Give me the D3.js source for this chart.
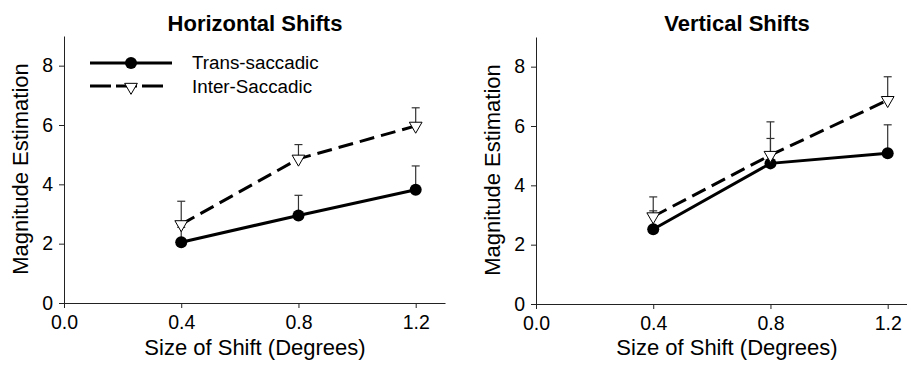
<!DOCTYPE html>
<html>
<head>
<meta charset="utf-8">
<script src="https://cdn.jsdelivr.net/npm/d3@7/dist/d3.min.js"></script>
<style>
    body { margin: 0; background: #fff; }
    svg { display: block; font-family: Arial, "Liberation Sans", sans-serif; }
    .axis path, .axis line { stroke: #222; stroke-width: 1; }
    .axis text { font-size: 19.5px; fill: #000; }
</style>
</head>
<body>
<svg id="chart" width="907" height="365"></svg>
<script>
// shift sizes (degrees) and tick values
var shifts = [0.4, 0.8, 1.2];
var xTicks = [0.0, 0.4, 0.8, 1.2];
var yTicks = [0, 2, 4, 6, 8];

// horizontal shifts panel
var horizTrans = [2.05, 2.95, 3.82];
var horizTransErr = [0.5, 0.68, 0.8];
var horizInter = [2.65, 4.86, 5.97];
var horizInterErr = [0.78, 0.48, 0.61];

// vertical shifts panel
var vertTrans = [2.52, 4.74, 5.08];
var vertTransErr = [0.62, 0.84, 0.96];
var vertInter = [2.95, 5.02, 6.87];
var vertInterErr = [0.66, 1.12, 0.79];

var seriesNames = ["Trans-saccadic", "Inter-Saccadic"];

var svg = d3.select("#chart");

var panels = [
    { title: "Vertical Shifts", left: 536, bottom: 304, titleX: 737, trans: vertTrans, transErr: vertTransErr, inter: vertInter, interErr: vertInterErr, legend: false },
    { title: "Horizontal Shifts", left: 64, bottom: 303, titleX: 255, trans: horizTrans, transErr: horizTransErr, inter: horizInter, interErr: horizInterErr, legend: true }
];

var triangle = d3.symbol().type(d3.symbolTriangle).size(70);

function drawPanel(p) {
    var width = 381;
    var x = d3.scaleLinear().domain([0, 1.3]).range([p.left, p.left + width]);
    var y = d3.scaleLinear().domain([0, 9]).range([p.bottom, p.bottom - 267]);

    var g = svg.append("g");

    g.append("g")
        .attr("class", "axis")
        .attr("transform", "translate(0," + p.bottom + ")")
        .call(d3.axisBottom(x).tickValues(xTicks).tickFormat(d3.format(".1f")).tickSize(5).tickPadding(7).tickSizeOuter(0));

    g.append("g")
        .attr("class", "axis")
        .attr("transform", "translate(" + p.left + ",0)")
        .call(d3.axisLeft(y).tickValues(yTicks).tickSize(5).tickPadding(6).tickSizeOuter(0));

    g.append("text")
        .attr("x", p.titleX)
        .attr("y", 31)
        .attr("text-anchor", "middle")
        .style("font-size", "22px")
        .style("font-weight", "bold")
        .text(p.title);

    g.append("text")
        .attr("x", p.left + width / 2 + 0.5)
        .attr("y", 355)
        .attr("text-anchor", "middle")
        .style("font-size", "22px")
        .text("Size of Shift (Degrees)");

    g.append("text")
        .attr("transform", "translate(" + (p.left - 36) + "," + (p.bottom - 134) + ") rotate(-90)")
        .attr("text-anchor", "middle")
        .style("font-size", "22px")
        .text("Magnitude Estimation");

    var line = d3.line()
        .x(function(d, i) { return x(shifts[i]); })
        .y(function(d) { return y(d); });

    // error bars (upper only)
    [[p.trans, p.transErr], [p.inter, p.interErr]].forEach(function(s) {
        shifts.forEach(function(sh, i) {
            var top = y(s[0][i] + s[1][i]);
            g.append("line")
                .attr("x1", x(sh)).attr("x2", x(sh))
                .attr("y1", y(s[0][i])).attr("y2", top)
                .attr("stroke", "#333").attr("stroke-width", 1.2);
            g.append("line")
                .attr("x1", x(sh) - 4).attr("x2", x(sh) + 4)
                .attr("y1", top).attr("y2", top)
                .attr("stroke", "#333").attr("stroke-width", 1.2);
        });
    });

    g.append("path")
        .datum(p.trans)
        .attr("d", line)
        .attr("fill", "none")
        .attr("stroke", "#000")
        .attr("stroke-width", 3);

    g.append("path")
        .datum(p.inter)
        .attr("d", line)
        .attr("fill", "none")
        .attr("stroke", "#000")
        .attr("stroke-width", 3)
        .attr("stroke-dasharray", "15,7");

    g.selectAll(".dot")
        .data(p.trans)
        .enter().append("circle")
        .attr("cx", function(d, i) { return x(shifts[i]); })
        .attr("cy", function(d) { return y(d); })
        .attr("r", 6)
        .attr("fill", "#000");

    g.selectAll(".tri")
        .data(p.inter)
        .enter().append("path")
        .attr("d", triangle)
        .attr("transform", function(d, i) { return "translate(" + x(shifts[i]) + "," + y(d) + ") rotate(180)"; })
        .attr("fill", "#fff")
        .attr("stroke", "#000")
        .attr("stroke-width", 1);

    if (p.legend) {
        var lg = svg.append("g");
        lg.append("line")
            .attr("x1", 90).attr("x2", 172).attr("y1", 63).attr("y2", 63)
            .attr("stroke", "#000").attr("stroke-width", 3);
        lg.append("circle").attr("cx", 131).attr("cy", 63).attr("r", 6).attr("fill", "#000");
        lg.append("line")
            .attr("x1", 90).attr("x2", 164).attr("y1", 86).attr("y2", 86)
            .attr("stroke", "#000").attr("stroke-width", 3)
            .attr("stroke-dasharray", "21,5");
        lg.append("path")
            .attr("d", triangle)
            .attr("transform", "translate(131,87) rotate(180)")
            .attr("fill", "#fff").attr("stroke", "#000").attr("stroke-width", 1);
        lg.selectAll("text")
            .data(seriesNames)
            .enter().append("text")
            .attr("x", 192)
            .attr("y", function(d, i) { return 69 + i * 23.5; })
            .style("font-size", "18.8px")
            .text(function(d) { return d; });
    }
}

panels.forEach(drawPanel);
</script>
</body>
</html>
